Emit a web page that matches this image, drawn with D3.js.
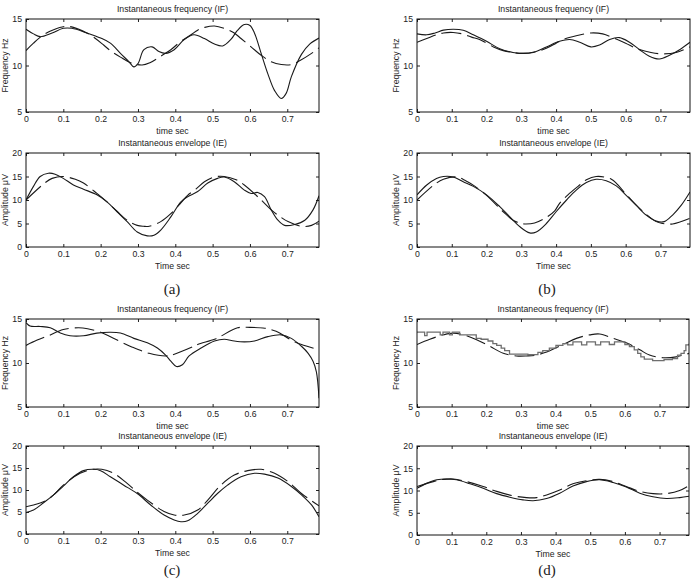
<!DOCTYPE html>
<html><head><meta charset="utf-8">
<script src="https://cdn.jsdelivr.net/npm/d3@7"></script>
<style>
html,body{margin:0;padding:0;background:#fff;}
svg{display:block;}
text{font-family:"Liberation Sans",Arial,sans-serif;fill:#222;}
</style></head>
<body>
<svg id="chart" width="694" height="580"></svg>
<script>
// ---- data (time sec, value) ----
const xTicks = [0,0.1,0.2,0.3,0.4,0.5,0.6,0.7];
const ifTicks = [5,10,15];
const ieTicks = [0,5,10,15,20];
const panelLabels = ["(a)","(b)","(c)","(d)"];

const IF_a_est = [[0,13.9],[0.02,13.4],[0.038,13.1],[0.07,13.5],[0.1,14.0],[0.123,14.0],[0.163,13.5],[0.2,12.95],[0.226,12.4],[0.253,11.3],[0.276,10.4],[0.289,9.85],[0.3,10.2],[0.316,11.7],[0.338,12.0],[0.356,11.5],[0.374,11.3],[0.397,11.7],[0.424,12.8],[0.45,13.3],[0.478,12.9],[0.505,12.3],[0.527,12.1],[0.549,12.8],[0.567,13.8],[0.585,14.4],[0.6,14.3],[0.612,13.5],[0.63,11.3],[0.648,9.1],[0.666,7.3],[0.684,6.45],[0.697,7.0],[0.711,8.8],[0.738,11.2],[0.76,12.3],[0.785,12.95]];
const IF_a_true = [[0,11.6],[0.02,12.4],[0.047,13.3],[0.074,13.85],[0.105,14.2],[0.127,14.1],[0.163,13.5],[0.186,12.9],[0.208,12.2],[0.226,11.6],[0.253,10.9],[0.28,10.3],[0.311,10.05],[0.332,10.3],[0.361,11.0],[0.388,11.7],[0.415,12.6],[0.442,13.3],[0.46,13.8],[0.479,14.1],[0.505,14.25],[0.531,14.0],[0.558,13.5],[0.576,12.9],[0.603,12.0],[0.63,11.1],[0.657,10.4],[0.684,10.1],[0.711,10.1],[0.733,10.5],[0.765,11.3],[0.785,11.9]];
const IE_a_est = [[0,10.0],[0.02,12.9],[0.038,15.0],[0.06,15.7],[0.078,15.5],[0.1,14.6],[0.127,13.2],[0.154,12.3],[0.19,11.1],[0.217,9.6],[0.244,7.5],[0.271,5.4],[0.298,3.2],[0.325,2.36],[0.343,2.5],[0.361,3.6],[0.388,6.4],[0.415,9.6],[0.433,10.7],[0.46,11.8],[0.487,13.6],[0.513,14.6],[0.531,14.9],[0.558,13.9],[0.585,12.1],[0.603,11.4],[0.621,11.6],[0.639,10.7],[0.657,7.9],[0.675,5.7],[0.693,4.6],[0.72,4.8],[0.747,5.7],[0.769,7.9],[0.785,10.9]];
const IE_a_true = [[0,10.0],[0.05,13.6],[0.07,14.6],[0.1,15.0],[0.132,14.4],[0.154,13.6],[0.19,11.4],[0.217,9.6],[0.244,7.6],[0.271,5.7],[0.298,4.6],[0.315,4.4],[0.33,4.4],[0.361,5.4],[0.388,7.1],[0.415,9.4],[0.433,11.0],[0.455,12.3],[0.478,13.9],[0.505,14.9],[0.531,15.0],[0.563,14.3],[0.585,13.2],[0.63,10.0],[0.657,7.9],[0.68,6.5],[0.702,5.4],[0.738,4.4],[0.765,4.6],[0.785,5.5]];

const IF_b_est = [[0,13.4],[0.028,13.3],[0.052,13.5],[0.076,13.8],[0.104,13.9],[0.133,13.8],[0.162,13.3],[0.2,12.6],[0.238,11.8],[0.276,11.4],[0.305,11.3],[0.334,11.4],[0.372,12.0],[0.41,12.6],[0.439,12.8],[0.468,12.5],[0.5,12.0],[0.525,12.2],[0.554,12.8],[0.582,13.0],[0.611,12.5],[0.64,11.7],[0.668,11.0],[0.697,10.7],[0.726,11.1],[0.755,11.7],[0.785,12.5]];
const IF_b_true = [[0,12.5],[0.028,12.9],[0.056,13.3],[0.076,13.5],[0.104,13.55],[0.13,13.4],[0.157,13.05],[0.18,12.8],[0.22,12.0],[0.248,11.6],[0.276,11.4],[0.305,11.3],[0.343,11.5],[0.372,11.85],[0.4,12.4],[0.42,12.8],[0.458,13.2],[0.5,13.5],[0.534,13.4],[0.563,13.0],[0.6,12.4],[0.63,11.85],[0.673,11.4],[0.706,11.25],[0.745,11.4],[0.785,12.0]];
const IE_b_est = [[0,11.1],[0.028,13.2],[0.056,14.6],[0.076,15.0],[0.104,14.9],[0.133,13.9],[0.162,12.9],[0.2,11.1],[0.238,8.6],[0.267,6.4],[0.296,4.3],[0.324,3.0],[0.343,3.2],[0.372,5.0],[0.4,7.5],[0.43,10.0],[0.458,12.1],[0.487,13.7],[0.515,14.4],[0.544,14.1],[0.573,13.0],[0.6,11.1],[0.63,8.9],[0.659,6.8],[0.688,5.5],[0.711,5.4],[0.735,6.8],[0.76,8.9],[0.785,11.7]];
const IE_b_true = [[0,10.0],[0.052,13.4],[0.076,14.4],[0.114,14.9],[0.14,14.1],[0.167,12.9],[0.2,11.0],[0.248,7.5],[0.276,5.7],[0.3,5.0],[0.31,4.9],[0.338,5.1],[0.372,6.3],[0.396,7.7],[0.41,9.3],[0.434,11.1],[0.463,12.9],[0.487,14.3],[0.515,15.0],[0.559,14.4],[0.6,11.3],[0.64,8.2],[0.688,5.4],[0.707,5.0],[0.735,4.9],[0.785,6.1]];

const IF_c_est = [[0,14.6],[0.011,14.2],[0.038,14.15],[0.065,14.0],[0.092,13.4],[0.118,13.1],[0.154,13.1],[0.19,13.4],[0.226,13.5],[0.253,13.4],[0.289,12.8],[0.325,12.3],[0.352,11.7],[0.374,10.9],[0.388,10.2],[0.403,9.6],[0.419,9.8],[0.437,10.8],[0.469,11.7],[0.505,12.5],[0.531,12.7],[0.558,12.5],[0.585,12.4],[0.612,12.5],[0.648,13.0],[0.684,13.2],[0.711,12.8],[0.738,11.9],[0.756,11.1],[0.769,10.2],[0.778,9.0],[0.785,6.0]];
const IF_c_true = [[0,12.0],[0.03,12.6],[0.06,13.1],[0.1,13.8],[0.14,14.0],[0.165,13.9],[0.2,13.5],[0.24,12.7],[0.285,11.8],[0.33,11.1],[0.374,10.8],[0.39,10.9],[0.45,11.9],[0.46,12.1],[0.505,12.7],[0.52,13.0],[0.567,14.0],[0.6,14.05],[0.64,13.95],[0.67,13.6],[0.711,12.6],[0.738,12.1],[0.785,11.5]];
const IE_c_est = [[0,4.85],[0.02,5.45],[0.047,7.1],[0.074,8.9],[0.1,10.9],[0.127,13.0],[0.154,14.4],[0.181,14.7],[0.2,14.4],[0.226,13.0],[0.262,11.1],[0.298,9.2],[0.334,6.6],[0.37,4.3],[0.397,3.2],[0.415,2.8],[0.433,3.0],[0.46,4.7],[0.487,7.0],[0.513,9.2],[0.54,11.1],[0.576,13.0],[0.612,13.8],[0.639,13.6],[0.675,12.7],[0.711,10.8],[0.738,8.9],[0.765,6.6],[0.785,3.9]];
const IE_c_true = [[0,6.2],[0.02,6.6],[0.056,7.7],[0.074,8.9],[0.1,11.1],[0.145,13.8],[0.18,14.7],[0.203,14.7],[0.235,13.8],[0.271,11.5],[0.298,9.5],[0.325,7.7],[0.37,5.1],[0.397,4.3],[0.424,4.3],[0.46,5.45],[0.487,7.7],[0.522,11.1],[0.558,13.4],[0.594,14.4],[0.63,14.7],[0.666,13.8],[0.702,11.9],[0.738,9.2],[0.785,6.4]];

const IF_d_est = [[0,13.5],[0.022,13.1],[0.029,13.5],[0.067,13.2],[0.075,13.5],[0.094,13.2],[0.102,13.5],[0.123,13.2],[0.171,12.8],[0.185,12.7],[0.205,12.5],[0.219,12.2],[0.23,12.0],[0.243,11.7],[0.253,11.4],[0.267,11.0],[0.32,10.95],[0.349,11.2],[0.363,11.4],[0.382,11.7],[0.401,12.0],[0.421,12.2],[0.435,12.05],[0.45,12.4],[0.475,12.05],[0.49,12.4],[0.515,12.05],[0.53,12.4],[0.555,12.1],[0.57,12.4],[0.6,12.1],[0.613,11.85],[0.627,11.5],[0.637,11.1],[0.646,10.7],[0.656,10.45],[0.68,10.27],[0.713,10.4],[0.737,10.5],[0.752,10.9],[0.762,11.1],[0.771,11.4],[0.776,12.05],[0.785,12.2]];
const IF_d_true = [[0,12.1],[0.037,12.7],[0.076,13.2],[0.105,13.4],[0.134,13.2],[0.172,12.65],[0.21,11.9],[0.249,11.1],[0.287,10.8],[0.316,10.8],[0.345,10.9],[0.383,11.4],[0.422,12.1],[0.46,12.8],[0.499,13.2],[0.527,13.3],[0.566,12.8],[0.604,12.3],[0.643,11.5],[0.671,10.9],[0.71,10.6],[0.748,10.7],[0.785,11.1]];
const IE_d_est = [[0,10.5],[0.028,11.6],[0.057,12.4],[0.085,12.6],[0.114,12.4],[0.153,11.5],[0.191,10.5],[0.23,9.3],[0.268,8.5],[0.306,7.9],[0.335,7.7],[0.374,8.2],[0.412,9.4],[0.45,11.0],[0.489,12.0],[0.527,12.4],[0.566,11.8],[0.604,10.8],[0.643,9.4],[0.681,8.6],[0.72,8.2],[0.758,8.4],[0.785,8.7]];
const IE_d_true = [[0,10.9],[0.047,12.0],[0.076,12.5],[0.105,12.6],[0.143,12.0],[0.191,10.9],[0.23,9.8],[0.278,8.8],[0.316,8.4],[0.345,8.4],[0.374,9.0],[0.412,10.1],[0.45,11.5],[0.489,12.2],[0.527,12.5],[0.566,12.0],[0.604,10.9],[0.643,9.8],[0.681,9.3],[0.72,9.3],[0.758,10.0],[0.785,11.1]];

// ---- layout ----
const xDomain = [0, 0.785];
const panels = [
  {x:[26,319], IF:[19,112], IE:[153,247], lab:[172,294], ifEst:IF_a_est, ifTrue:IF_a_true, ieEst:IE_a_est, ieTrue:IE_a_true, step:false},
  {x:[417,690], IF:[19,112], IE:[153,247], lab:[547,294], ifEst:IF_b_est, ifTrue:IF_b_true, ieEst:IE_b_est, ieTrue:IE_b_true, step:false},
  {x:[26,319], IF:[319,407], IE:[446,534], lab:[172,575], ifEst:IF_c_est, ifTrue:IF_c_true, ieEst:IE_c_est, ieTrue:IE_c_true, step:false},
  {x:[417,689], IF:[319,407], IE:[446,535], lab:[547,575], ifEst:IF_d_est, ifTrue:IF_d_true, ieEst:IE_d_est, ieTrue:IE_d_true, step:true}
];
const FS = 8.7;
const svg = d3.select("#chart");
let clipId = 0;

function drawPlot(p, yRange, yDomain, yTicks, title, xlab, ylab, est, tru, step) {
  const x = d3.scaleLinear().domain(xDomain).range(p.x);
  const y = d3.scaleLinear().domain(yDomain).range([yRange[1], yRange[0]]);
  const g = svg.append("g");
  const id = "clip" + (clipId++);
  svg.append("clipPath").attr("id", id).append("rect")
    .attr("x", p.x[0]).attr("y", yRange[0]).attr("width", p.x[1]-p.x[0]).attr("height", yRange[1]-yRange[0]);

  const fmt = d => d === 0 ? "0" : d3.format(".1f")(d);
  const ax = [
    g.append("g").attr("transform", `translate(0,${yRange[1]})`).call(d3.axisBottom(x).tickValues(xTicks).tickFormat(fmt).tickSizeInner(-3).tickSizeOuter(0).tickPadding(4)),
    g.append("g").attr("transform", `translate(0,${yRange[0]})`).call(d3.axisTop(x).tickValues(xTicks).tickFormat("").tickSizeInner(-3).tickSizeOuter(0)),
    g.append("g").attr("transform", `translate(${p.x[0]},0)`).call(d3.axisLeft(y).tickValues(yTicks).tickSizeInner(-3).tickSizeOuter(0).tickPadding(4)),
    g.append("g").attr("transform", `translate(${p.x[1]},0)`).call(d3.axisRight(y).tickValues(yTicks).tickFormat("").tickSizeInner(-3).tickSizeOuter(0))
  ];
  ax.forEach(a => {
    a.select(".domain").remove();
    a.selectAll("line").attr("stroke", "#222");
    a.selectAll("text").style("font-size", FS + "px").style("font-family", "Liberation Sans, Arial, sans-serif").attr("fill", "#222");
  });

  const lineSmooth = d3.line().x(d => x(d[0])).y(d => y(d[1])).curve(d3.curveCatmullRom.alpha(0.5));
  const lineStep = d3.line().x(d => x(d[0])).y(d => y(d[1])).curve(d3.curveStepAfter);
  const lg = g.append("g").attr("clip-path", `url(#${id})`);
  lg.append("path").attr("d", lineSmooth(tru)).attr("fill", "none")
    .attr("stroke", "#1a1a1a").attr("stroke-width", 1.1).attr("stroke-dasharray", "20,6");
  lg.append("path").attr("d", step ? lineStep(est) : lineSmooth(est)).attr("fill", "none")
    .attr("stroke", step ? "#6e6e6e" : "#1a1a1a").attr("stroke-width", step ? 1.3 : 1.1);

  g.append("rect").attr("x", p.x[0]).attr("y", yRange[0]).attr("width", p.x[1]-p.x[0]).attr("height", yRange[1]-yRange[0])
    .attr("fill", "none").attr("stroke", "#111").attr("stroke-width", 1);

  const cx = (p.x[0] + p.x[1]) / 2;
  g.append("text").attr("x", cx).attr("y", yRange[0] - 7).attr("text-anchor", "middle").style("font-size", FS + "px").text(title);
  g.append("text").attr("x", cx).attr("y", yRange[1] + 21.5).attr("text-anchor", "middle").style("font-size", FS + "px").text(xlab);
  const cy = (yRange[0] + yRange[1]) / 2;
  g.append("text").attr("transform", `translate(${p.x[0]-18},${cy}) rotate(-90)`).attr("text-anchor", "middle").style("font-size", FS + "px").text(ylab);
}

panels.forEach((p, i) => {
  drawPlot(p, p.IF, [5,15], ifTicks, "Instantaneous frequency (IF)", "time sec", "Frequency Hz", p.ifEst, p.ifTrue, p.step);
  drawPlot(p, p.IE, [0,20], ieTicks, "Instantaneous envelope (IE)", "Time sec", "Amplitude \u03bcV", p.ieEst, p.ieTrue, false);
  svg.append("text").attr("x", p.lab[0]).attr("y", p.lab[1]).attr("text-anchor", "middle")
    .style("font-family", "Liberation Serif, Times New Roman, serif").style("font-size", "15px").attr("fill", "#111")
    .text(panelLabels[i]);
});
</script>
</body></html>
